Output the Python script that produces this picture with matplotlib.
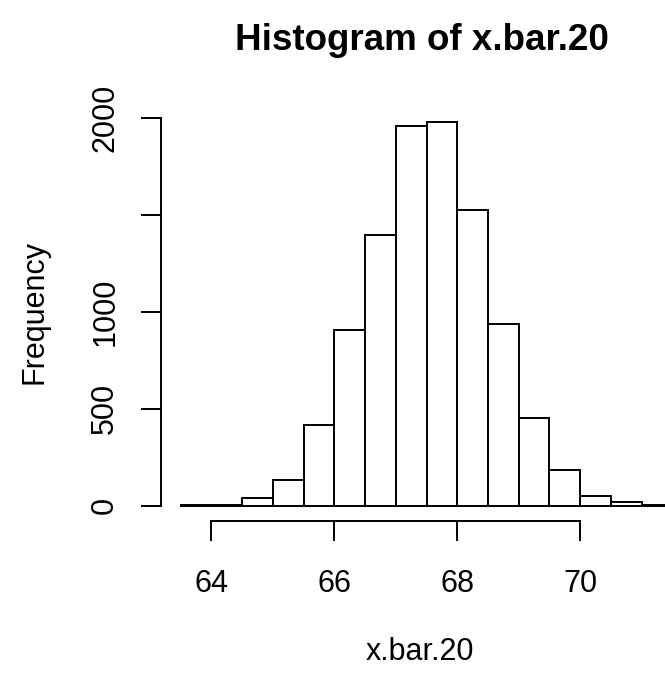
import matplotlib
matplotlib.use("Agg")
import matplotlib.pyplot as plt
import numpy as np

plt.rcParams['font.family'] = ['Liberation Sans', 'DejaVu Sans']

# histogram of x.bar.20, bin width 0.5
breaks = [63.5, 64.0, 64.5, 65.0, 65.5, 66.0, 66.5, 67.0, 67.5,
          68.0, 68.5, 69.0, 69.5, 70.0, 70.5, 71.0, 71.5]
counts = [1, 4, 38, 134, 417, 907, 1397, 1959, 1979,
          1526, 938, 454, 186, 48, 20, 5]
xticks = [64, 66, 68, 70]
yticks = [0, 500, 1000, 1500, 2000]
ylabels = ["0", "500", "1000", "", "2000"]

W, H = 665, 676
fig = plt.figure(figsize=(W / 100, H / 100), dpi=100)
ax = fig.add_axes([161 / W, (H - 521) / H, (692 - 161) / W, (521 - 107) / H])

left = np.array(breaks[:-1])
widths = np.diff(breaks)
ax.bar(left, counts, width=widths, align='edge', color='white',
       edgecolor='black', linewidth=1.4)

# R style 4% padding
xr = breaks[-1] - breaks[0]
ax.set_xlim(breaks[0] - 0.04 * xr, breaks[-1] + 0.04 * xr)
ymax = max(counts)
ax.set_ylim(-0.04 * ymax, ymax * 1.04)

for s in ['top', 'right']:
    ax.spines[s].set_visible(False)
ax.spines['left'].set_bounds(0, 2000)
ax.spines['bottom'].set_bounds(64, 70)
for s in ['left', 'bottom']:
    ax.spines[s].set_linewidth(1.4)

ax.set_xticks(xticks)
ax.set_xticklabels([str(t) for t in xticks])
ax.set_yticks(yticks)
ax.set_yticklabels(ylabels, rotation=90, va='center')
ax.tick_params(axis='both', length=14.4, width=1.4, labelsize=22)
ax.tick_params(axis='x', pad=20.5)
ax.tick_params(axis='y', pad=15)

fig.text(0.5 * (233 + 610) / W, 1 - 40 / H, "Histogram of x.bar.20",
         ha='center', va='center', fontsize=26.5, fontweight='bold')
fig.text(420 / W, 1 - 652 / H, "x.bar.20", ha='center', va='center', fontsize=22)
fig.text(35 / W, 1 - 312 / H, "Frequency", ha='center', va='center',
         fontsize=22, rotation=90)

fig.savefig("out.png", dpi=100)
